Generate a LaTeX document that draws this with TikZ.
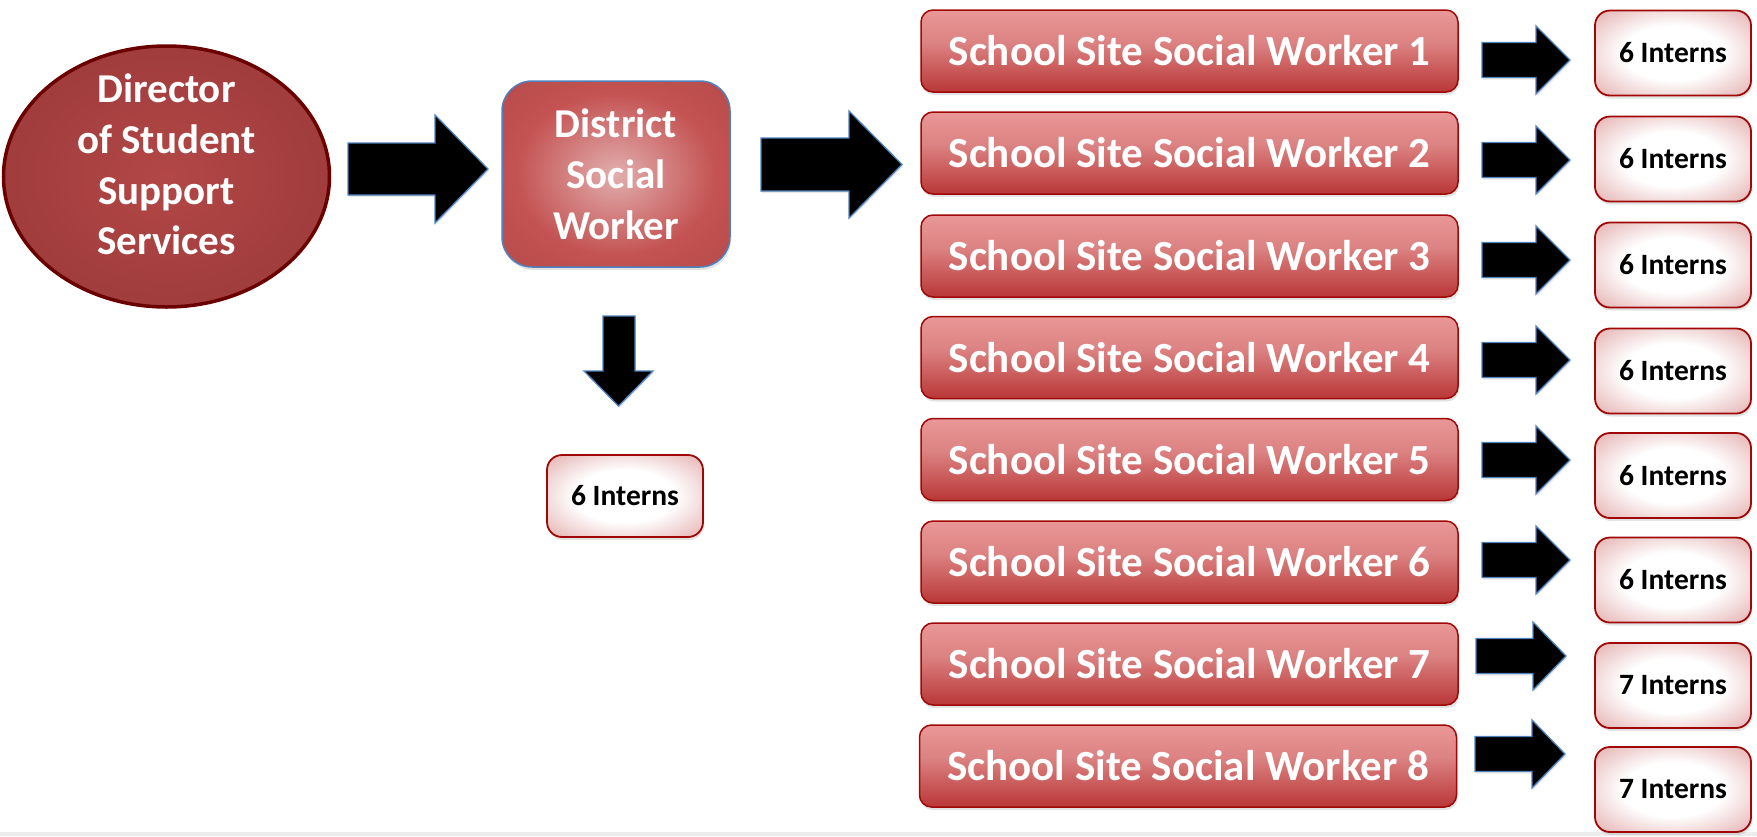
\documentclass[tikz,border=0pt]{standalone}
\usepackage{fontspec}
\setmainfont{Carlito}
\usetikzlibrary{shapes.geometric,shadows}
\definecolor{dircenter}{HTML}{B34747}
\definecolor{diredge}{HTML}{8E3232}
\definecolor{dirborder}{HTML}{6B0000}
\definecolor{dcenter}{HTML}{E2AEAE}
\definecolor{dmid}{HTML}{C45252}
\definecolor{dedge}{HTML}{A84444}
\definecolor{dcorner}{HTML}{8A3232}
\definecolor{blueline}{HTML}{4F81BD}
\definecolor{stop}{HTML}{F3A5A5}
\definecolor{smid}{HTML}{DC8282}
\definecolor{sbot}{HTML}{A60C0C}
\definecolor{redline}{HTML}{A00808}
\definecolor{imid}{HTML}{E4AEAE}
\definecolor{iedge}{HTML}{C66666}
\definecolor{icorner}{HTML}{B44C4C}
\pgfdeclareradialshading{dirshade}{\pgfpoint{0bp}{0bp}}{color(0bp)=(dircenter); color(50bp)=(diredge); color(72bp)=(diredge)}
\pgfdeclareradialshading{districtshade}{\pgfpoint{0bp}{0bp}}{color(0bp)=(dcenter); color(22bp)=(dmid); color(48bp)=(dedge); color(72bp)=(dcorner)}
\pgfdeclareverticalshading{schoolshade}{100bp}{color(0bp)=(sbot); color(8bp)=(sbot); color(55bp)=(smid); color(88bp)=(stop); color(100bp)=(stop)}
\pgfdeclareradialshading{internshade}{\pgfpoint{0bp}{0bp}}{color(0bp)=(white); color(16bp)=(white); color(36bp)=(imid); color(50bp)=(iedge); color(72bp)=(icorner)}
\newcommand{\RightBlock}[6]{%
  \draw[blockarrow] ({#1},{#2-#5}) -- ({#3},{#2-#5}) -- ({#3},{#2-#6}) -- ({#4},{#2})
    -- ({#3},{#2+#6}) -- ({#3},{#2+#5}) -- ({#1},{#2+#5}) -- cycle;}
\begin{document}
\begin{tikzpicture}[x=1pt,y=-1pt,
  softshadow/.style={drop shadow={opacity=0.22,shadow xshift=1pt,shadow yshift=-3pt}},
  director/.style={ellipse,draw=dirborder,line width=3.5pt,shading=dirshade,
    minimum width=326pt,minimum height=261pt,inner sep=0pt},
  dirtext/.style={align=center,text=white,inner sep=0pt,
    font=\fontsize{41}{50.7}\selectfont\bfseries},
  district/.style={rectangle,rounded corners=30pt,draw=blueline,line width=1.5pt,shading=districtshade,
    minimum width=228pt,minimum height=186pt,inner sep=0pt,align=center,text=white,
    font=\fontsize{41}{51}\selectfont\bfseries,softshadow},
  school/.style={rectangle,rounded corners=12pt,draw=redline,line width=1.5pt,shading=schoolshade,
    minimum width=537pt,minimum height=82pt,inner sep=0pt,text=white,
    font=\fontsize{43}{48}\selectfont\bfseries,softshadow},
  intern/.style={rectangle,rounded corners=15pt,draw=redline,line width=1.8pt,shading=internshade,
    minimum width=156pt,minimum height=85pt,inner sep=0pt,text=black,
    font=\fontsize{29.5}{32}\selectfont\bfseries,softshadow},
  blockarrow/.style={fill=black,draw=blueline,line width=1.3pt,line join=miter,
    drop shadow={opacity=0.18,shadow xshift=1pt,shadow yshift=-2pt}}]
\useasboundingbox (0,0) rectangle (1757,836);
\fill[black!7] (0,832) rectangle (1757,836);

\node[director] (dir) at (166.5,176.5) {};
\node[dirtext] (dirlabel) at ([yshift=12pt]dir.center) {Director\\of Student\\Support\\Services};
\node[district] (dsw) at (616,174) {District\\Social\\Worker};
\node[intern,minimum height=82pt] (di) at (625,496) {6 Interns};

\foreach \i/\y in {1/51,2/153,3/256,4/357.5,5/459.5,6/562,7/664}{
  \node[school] (s\i) at (1189.5,\y) {School Site Social Worker \i};
}
\node[school] (s8) at (1188,766) {School Site Social Worker 8};

\foreach \i/\y/\n in {1/53/6,2/159/6,3/265/6,4/371/6,5/475.5/6,6/580/6,7/685.5/7,8/789.5/7}{
  \node[intern] (r\i) at (1673,\y) {\n\ Interns};
}

\RightBlock{348}{169}{435}{488}{26}{54}
\RightBlock{761}{164.5}{849}{902}{26.5}{53.5}
\draw[blockarrow] (603,316) -- (635,316) -- (635,371) -- (653,371) -- (618.5,406)
  -- (584,371) -- (603,371) -- cycle;
\foreach \y in {60,160,260,360,460,560}{
  \RightBlock{1482}{\y}{1536}{1570}{17.5}{34}
}
\RightBlock{1476}{656}{1533}{1566}{17.5}{34}
\RightBlock{1475}{754}{1532}{1565}{17.5}{34}
\end{tikzpicture}
\end{document}
